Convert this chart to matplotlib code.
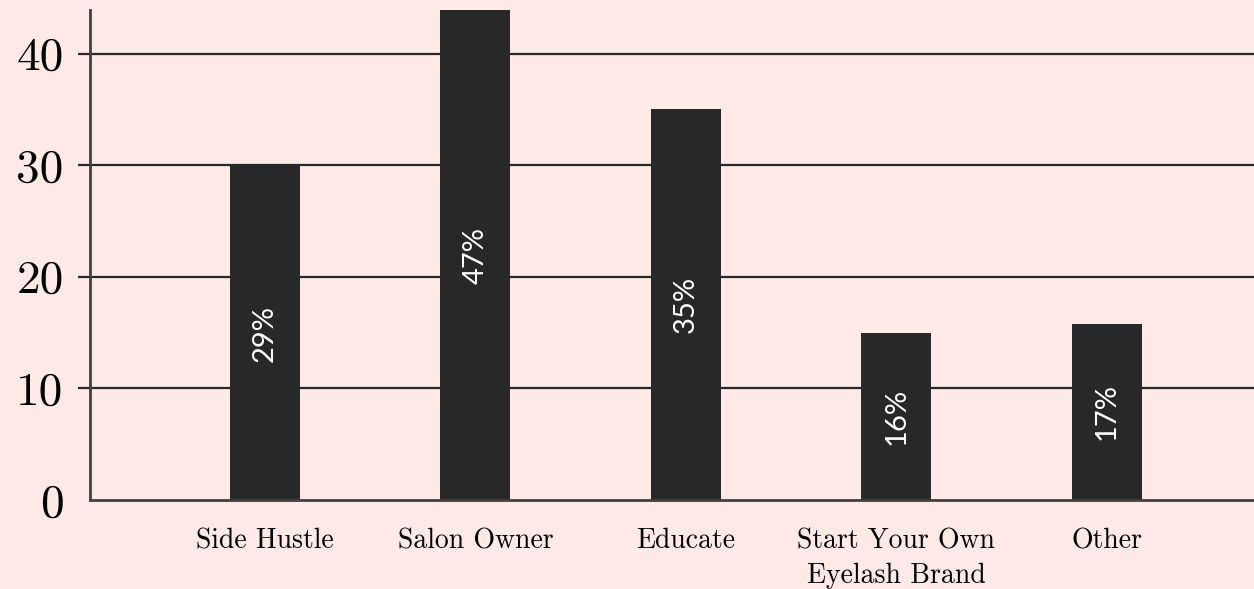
import matplotlib
matplotlib.use("Agg")
import matplotlib.pyplot as plt
import numpy as np

plt.rcParams["axes.formatter.use_mathtext"] = True

categories = ["Side Hustle", "Salon Owner", "Educate",
              "Start Your Own\nEyelash Brand", "Other"]
heights = [29.9, 47, 35, 15, 15.8]
pct_labels = ["29%", "47%", "35%", "16%", "17%"]
yticks = [0, 10, 20, 30, 40]

bg = "#fde9e6"
ink = "#282828"

fig = plt.figure(figsize=(12.54, 5.89), dpi=100, facecolor=bg)
ax = fig.add_axes([90/1254, 1 - 500/589, 1 - 90/1254, 490/589])
ax.set_facecolor(bg)

x = np.arange(len(categories))
for y in yticks[1:]:
    ax.axhline(y, color=ink, lw=1.6, zorder=1)
bars = ax.bar(x, heights, width=0.333, color=ink, zorder=2)
ax.bar_label(bars, labels=pct_labels, label_type="center", rotation=90,
             color="white", fontsize=21, family="Lato")

ax.set_xlim(-0.831, 4.699)
ax.set_ylim(0, 43.9)
ax.set_yticks(yticks)
ax.set_yticklabels([str(v) for v in yticks], family="cmr10", fontsize=34)
ax.set_xticks(x)
ax.set_xticklabels(categories, family="cmr10", fontsize=20, linespacing=1.4)

ax.tick_params(axis="y", length=9, width=1.6, color=ink, pad=10)
ax.tick_params(axis="x", length=0, pad=20)
ax.yaxis.get_major_ticks()[0].tick1line.set_visible(False)

for side in ["top", "right"]:
    ax.spines[side].set_visible(False)
for side in ["left", "bottom"]:
    ax.spines[side].set_color("#404040")
    ax.spines[side].set_linewidth(2)

fig.savefig("out.png", dpi=100, facecolor=bg)
